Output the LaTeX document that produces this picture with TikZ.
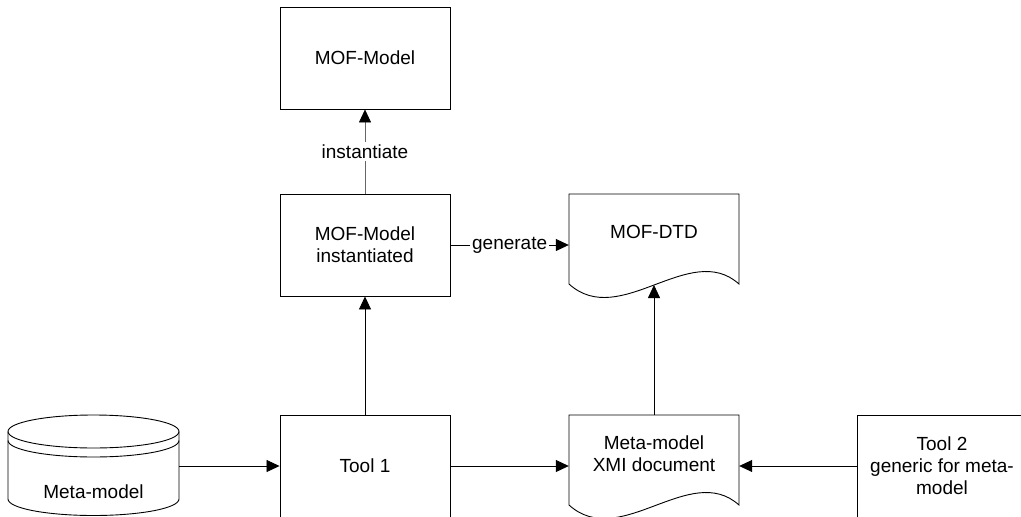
\documentclass[tikz,border=0pt]{standalone}
\usepackage{fontspec}
\setmainfont{Liberation Sans}
\usetikzlibrary{arrows.meta}
\begin{document}
\begin{tikzpicture}[x=1pt, y=-1pt,
  font=\fontsize{19}{22}\selectfont,
  every node/.style={align=center, inner sep=0pt},
  outline/.style={line width=0.9pt},
  box/.style={outline, draw, minimum width=170pt, minimum height=102pt},
  shell/.style={minimum width=170pt, minimum height=102pt},
  link/.style={line width=0.8pt, -{Triangle[length=13pt, width=12pt, color=black]}},
  lbl/.style={fill=white, inner xsep=2pt, inner ysep=3pt}]
\useasboundingbox (0,0) rectangle (1021,517);
\clip (0,0) rectangle (1021,517);

% plain boxes
\node[box] (mof)   at (365,58)  {MOF-Model};
\node[box] (inst)  at (365,245) {MOF-Model\\instantiated};
\node[box] (tool1) at (365,466) {Tool 1};
\node[box] (tool2) at (942,466) {Tool 2\\generic for meta-\\model};

% document shapes (wavy bottom edge)
\node[shell] (dtd) at (654,245) {};
\draw[outline] (569,284) -- (569,194) -- (739,194) -- (739,284)
  .. controls (690,240) and (620,330) .. (569,284);
\node (dtdtext) at (654,232) {MOF-DTD};
\coordinate (dtdwave) at (654,285);

\node[shell] (xmi) at (654,466) {};
\draw[outline] (569,505) -- (569,415) -- (739,415) -- (739,505)
  .. controls (690,461) and (620,551) .. (569,505);
\node (xmitext) at (654,454) {Meta-model\\XMI document};

% database cylinder
\node[shell, minimum width=171pt] (db) at (93.5,466) {};
\draw[outline] (93.5,431.5) ellipse [x radius=85.5, y radius=16.5];
\draw[outline] (8,440.5) arc [start angle=180, end angle=0, x radius=85.5, y radius=16.5];
\draw[outline] (8,431.5) -- (8,499) arc [start angle=180, end angle=0, x radius=85.5, y radius=16.5] -- (179,431.5);
\node (dbtext) at (93.5,492) {Meta-model};

% connectors
\draw[link] (db.east) -- (tool1.west);
\draw[link] (tool1.east) -- (xmi.west);
\draw[link] (tool2.west) -- (xmi.east);
\draw[link] (tool1.north) -- (inst.south);
\draw[link] (xmi.north) -- (dtdwave);
\draw[link] (inst.east) -- node[lbl] {generate} (dtd.west);
\draw[link, line width=0.6pt, draw=black!60] (inst.north) -- node[lbl] {instantiate} (mof.south);
\end{tikzpicture}
\end{document}
